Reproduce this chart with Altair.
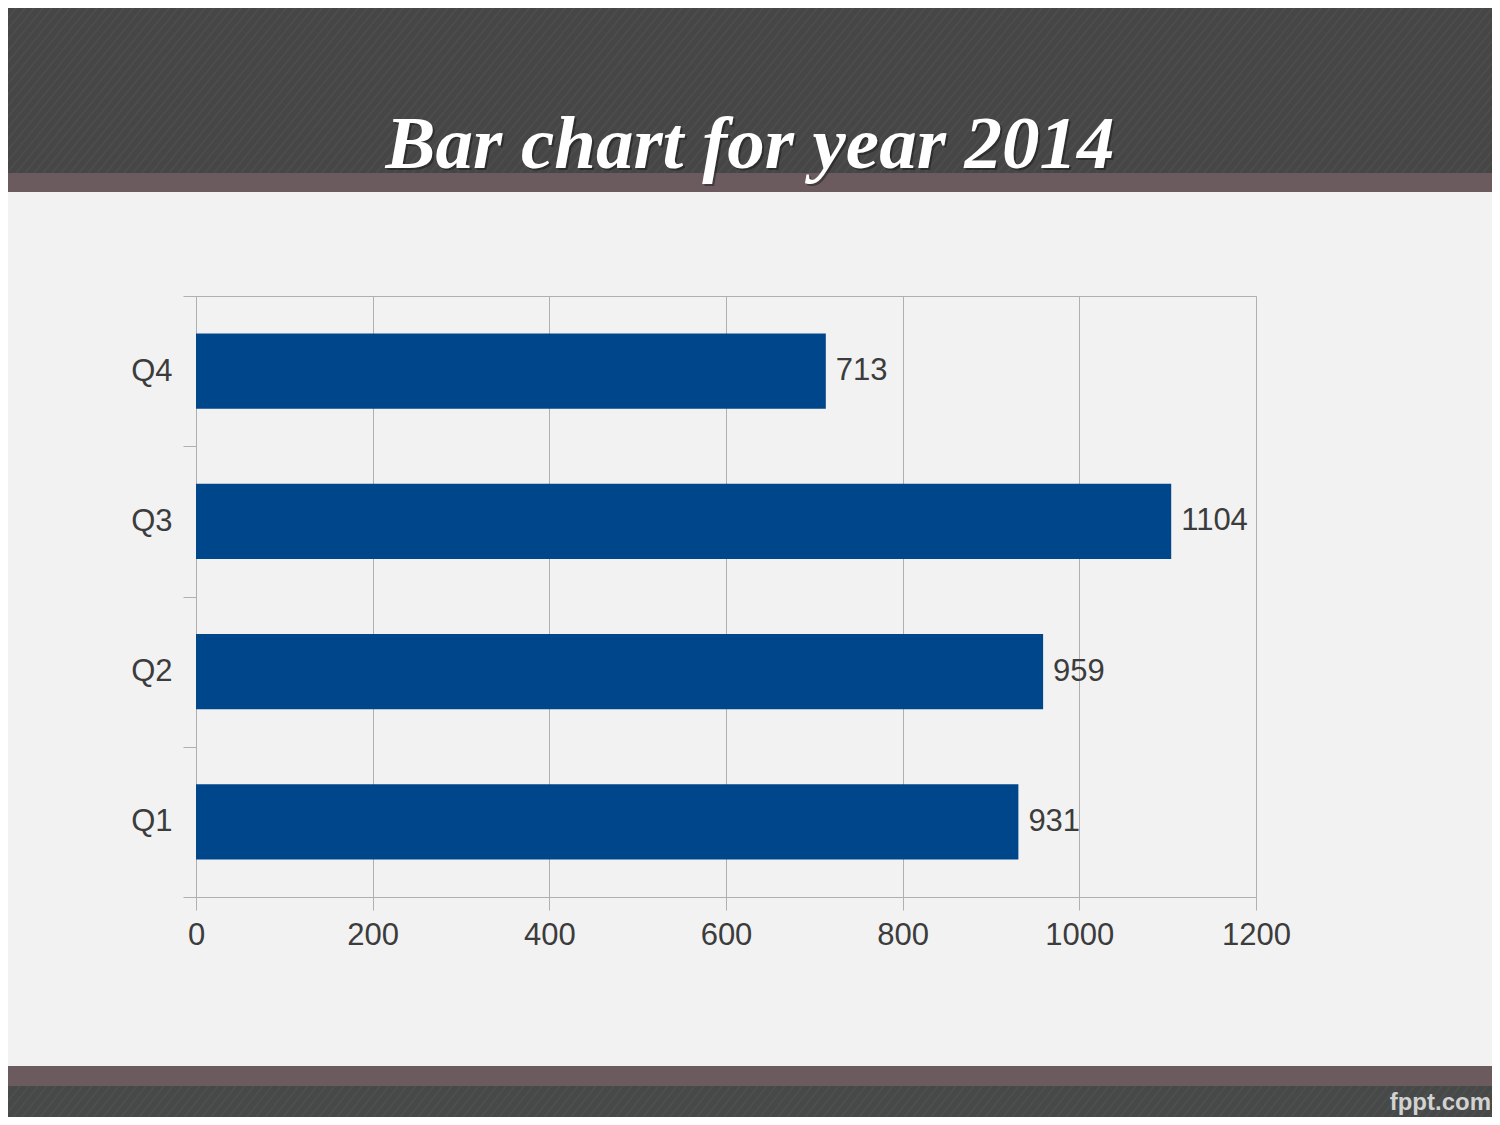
import altair as alt
import pandas as pd

quarters = ["Q1", "Q2", "Q3", "Q4"]
values = [931, 959, 1104, 713]
x_ticks = [0, 200, 400, 600, 800, 1000, 1200]
title_text = "Bar chart for year 2014"
brand_text = "fppt.com"

df = pd.DataFrame({"quarter": quarters, "value": values})
order = ["Q4", "Q3", "Q2", "Q1"]

W, H = 1060, 601
PAD = {"left": 188, "top": 288, "right": 236, "bottom": 220}

one = alt.Data(values=[{"k": 0}])

def band(y0, y1, color):
    return alt.Chart(one).mark_rect(color=color).encode(
        x=alt.value(-200), x2=alt.value(1400), y=alt.value(y0), y2=alt.value(y1)
    )

header = band(-300, -123, "#464646")
header_stripe = band(-123, -104, "#6b5b5f")
footer_stripe = band(770, 790, "#6b5b5f")
footer = band(790, 840, "#474848")

stripes = alt.Chart(alt.sequence(0, 200, as_="i")).transform_calculate(
    x0="-360 + datum.i * 9", x1="-360 + datum.i * 9 + 145", y0="-123", y1="-300"
).mark_rule(color="#525252", strokeWidth=2, opacity=0.55).encode(
    x=alt.X("x0:Q", scale=None, axis=None),
    x2="x1:Q",
    y=alt.Y("y0:Q", scale=None, axis=None),
    y2="y1:Q",
)

stripes_f = alt.Chart(alt.sequence(0, 200, as_="i")).transform_calculate(
    x0="-360 + datum.i * 9", x1="-360 + datum.i * 9 + 40", y0="840", y1="790"
).mark_rule(color="#545555", strokeWidth=2, opacity=0.5).encode(
    x=alt.X("x0:Q", scale=None, axis=None),
    x2="x1:Q",
    y=alt.Y("y0:Q", scale=None, axis=None),
    y2="y1:Q",
)

title_kw = dict(font="Liberation Serif", fontSize=75, fontWeight="bold",
                fontStyle="italic", align="center", baseline="alphabetic")

title_shadow = alt.Chart(alt.Data(values=[{"t": title_text}])).mark_text(
    color="#000000", opacity=0.35, **title_kw
).encode(x=alt.value(556), y=alt.value(-126), text="t:N")

title = alt.Chart(alt.Data(values=[{"t": title_text}])).mark_text(
    color="#ffffff", **title_kw
).encode(x=alt.value(554), y=alt.value(-128), text="t:N")

brand = alt.Chart(alt.Data(values=[{"t": brand_text}])).mark_text(
    font="Liberation Sans", fontSize=24, fontWeight="bold", color="#d2d2d2",
    align="right", baseline="alphabetic"
).encode(x=alt.value(1295), y=alt.value(814), text="t:N")

base = alt.Chart(df)

bars = base.mark_bar(color="#00468b", height=alt.RelativeBandSize(0.5)).encode(
    x=alt.X(
        "value:Q",
        scale=alt.Scale(domain=[0, 1200], nice=False),
        axis=alt.Axis(
            values=x_ticks, format="d", title=None, grid=True, gridColor="#b0b0b0",
            domainColor="#b0b0b0", tickColor="#b0b0b0", tickSize=13,
            labelFontSize=31, labelFont="Liberation Sans", labelColor="#3c3c3c",
            labelPadding=10, labelFlush=False, labelOverlap=False,
        ),
    ),
    y=alt.Y(
        "quarter:N",
        sort=order,
        scale=alt.Scale(paddingInner=0, paddingOuter=0),
        axis=alt.Axis(
            title=None, tickBand="extent", grid=False, domainColor="#b0b0b0",
            tickColor="#b0b0b0", tickSize=13, labelFontSize=31,
            labelFont="Liberation Sans", labelColor="#3c3c3c", labelPadding=11,
        ),
    ),
)

labels = base.mark_text(
    align="left", baseline="middle", dx=10, fontSize=31,
    font="Liberation Sans", color="#3c3c3c"
).encode(
    x="value:Q",
    y=alt.Y("quarter:N", sort=order),
    text="value:Q",
)

chart = alt.layer(
    header, stripes, header_stripe, footer_stripe, footer, stripes_f,
    title_shadow, title, brand, bars, labels
).properties(
    width=W, height=H, padding=PAD,
    autosize=alt.AutoSizeParams(type="none"),
    background="#f2f2f2",
).configure_view(stroke="#b0b0b0", strokeWidth=1)

chart.save("out.html", embed_options={"renderer": "svg", "actions": False})
